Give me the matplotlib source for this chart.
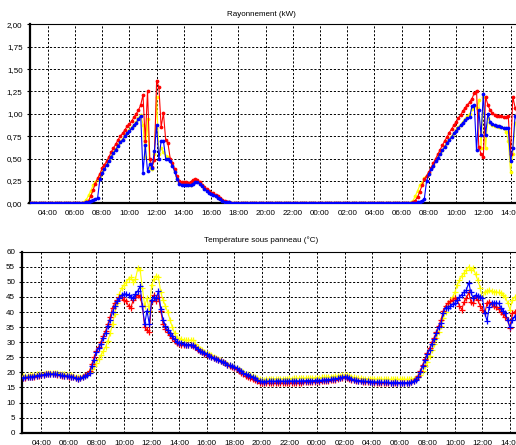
import numpy as np
import matplotlib
matplotlib.use("Agg")
import matplotlib.pyplot as plt
from matplotlib.ticker import FuncFormatter

plt.rcParams['font.family'] = ['Liberation Sans', 'DejaVu Sans']

# ---- sampling: one value every 10 minutes, from 02:40 (day 1) to 14:30 (day 2)
START_H = 2 + 40 / 60
STEP_H = 10 / 60

title_rad = "Rayonnement (kW)"
title_temp = "Température sous panneau (°C)"

# Rayonnement (kW)
rad_red = [0, 0,
    0, 0, 0, 0, 0, 0,              # 03
    0, 0, 0, 0, 0, 0,              # 04
    0, 0, 0, 0, 0, 0,              # 05
    0, 0, 0, 0, 0, 0.01,           # 06
    0.03, 0.08, 0.15, 0.22, 0.28, 0.33,   # 07
    0.39, 0.43, 0.47, 0.52, 0.57, 0.62,   # 08
    0.66, 0.71, 0.75, 0.78, 0.82, 0.86,   # 09
    0.89, 0.92, 0.96, 1.00, 1.04, 1.10,   # 10
    1.21, 0.70, 1.25, 0.50, 0.41, 0.48,   # 11
    1.37, 1.30, 0.85, 1.01, 0.71, 0.67,   # 12
    0.50, 0.45, 0.38, 0.30, 0.25, 0.24,   # 13
    0.24, 0.24, 0.23, 0.24, 0.26, 0.27,   # 14
    0.26, 0.24, 0.21, 0.18, 0.16, 0.14,   # 15
    0.12, 0.11, 0.09, 0.08, 0.06, 0.04,   # 16
    0.03, 0.02, 0.01, 0, 0, 0,            # 17
    0, 0, 0, 0, 0, 0,   # 18
    0, 0, 0, 0, 0, 0,   # 19
    0, 0, 0, 0, 0, 0,   # 20
    0, 0, 0, 0, 0, 0,   # 21
    0, 0, 0, 0, 0, 0,   # 22
    0, 0, 0, 0, 0, 0,   # 23
    0, 0, 0, 0, 0, 0,   # 00
    0, 0, 0, 0, 0, 0,   # 01
    0, 0, 0, 0, 0, 0,   # 02
    0, 0, 0, 0, 0, 0,   # 03
    0, 0, 0, 0, 0, 0,   # 04
    0, 0, 0, 0, 0, 0,   # 05
    0, 0, 0, 0, 0, 0.01,                  # 06
    0.03, 0.07, 0.13, 0.20, 0.27, 0.31,   # 07
    0.35, 0.40, 0.45, 0.50, 0.55, 0.60,   # 08
    0.65, 0.70, 0.74, 0.79, 0.83, 0.87,   # 09
    0.91, 0.95, 0.99, 1.03, 1.07, 1.10,   # 10
    1.13, 1.17, 1.23, 1.26, 0.63, 0.55,   # 11
    0.52, 1.19, 1.10, 1.04, 1.01, 0.99,   # 12
    0.98, 0.98, 0.97, 0.96, 0.96, 0.97,   # 13
    0.55, 1.19, 1.07, 1.00]               # 14

rad_yellow = [0, 0,
    0, 0, 0, 0, 0, 0,              # 03
    0, 0, 0, 0, 0, 0,              # 04
    0, 0, 0, 0, 0, 0,              # 05
    0, 0, 0, 0, 0.01, 0.04,        # 06
    0.09, 0.14, 0.20, 0.24, 0.27, 0.31,   # 07
    0.36, 0.40, 0.44, 0.48, 0.53, 0.57,   # 08
    0.61, 0.65, 0.69, 0.72, 0.76, 0.79,   # 09
    0.82, 0.85, 0.88, 0.91, 0.95, 0.99,   # 10
    0.88, 0.52, 0.94, 0.39, 0.38, 0.55,   # 11
    1.19, 0.55, 0.62, 0.57, 0.53, 0.52,   # 12
    0.48, 0.43, 0.36, 0.28, 0.23, 0.22,   # 13
    0.22, 0.22, 0.21, 0.21, 0.23, 0.25,   # 14
    0.25, 0.23, 0.20, 0.17, 0.15, 0.13,   # 15
    0.11, 0.10, 0.08, 0.07, 0.05, 0.04,   # 16
    0.02, 0.01, 0.01, 0, 0, 0,            # 17
    0, 0, 0, 0, 0, 0,   # 18
    0, 0, 0, 0, 0, 0,   # 19
    0, 0, 0, 0, 0, 0,   # 20
    0, 0, 0, 0, 0, 0,   # 21
    0, 0, 0, 0, 0, 0,   # 22
    0, 0, 0, 0, 0, 0,   # 23
    0, 0, 0, 0, 0, 0,   # 00
    0, 0, 0, 0, 0, 0,   # 01
    0, 0, 0, 0, 0, 0,   # 02
    0, 0, 0, 0, 0, 0,   # 03
    0, 0, 0, 0, 0, 0,   # 04
    0, 0, 0, 0, 0, 0,   # 05
    0, 0, 0, 0, 0.01, 0.03,               # 06
    0.08, 0.14, 0.20, 0.23, 0.28, 0.30,   # 07
    0.34, 0.39, 0.43, 0.48, 0.52, 0.56,   # 08
    0.60, 0.64, 0.68, 0.72, 0.75, 0.79,   # 09
    0.82, 0.85, 0.88, 0.91, 0.94, 0.97,   # 10
    1.00, 1.05, 1.09, 1.07, 1.15, 0.62,   # 11
    1.19, 0.62, 0.95, 0.90, 0.88, 0.86,   # 12
    0.86, 0.85, 0.85, 0.84, 0.80, 0.70,   # 13
    0.35, 0.55, 0.90, 0.88]               # 14

rad_blue = [0, 0,
    0, 0, 0, 0, 0, 0,              # 03
    0, 0, 0, 0, 0, 0,              # 04
    0, 0, 0, 0, 0, 0,              # 05
    0, 0, 0, 0, 0, 0.01,           # 06
    0.02, 0.03, 0.04, 0.05, 0.06, 0.27,   # 07
    0.34, 0.38, 0.43, 0.47, 0.52, 0.56,   # 08
    0.60, 0.64, 0.68, 0.71, 0.75, 0.78,   # 09
    0.81, 0.84, 0.87, 0.90, 0.94, 0.98,   # 10
    0.34, 0.65, 0.36, 0.44, 0.40, 0.58,   # 11
    0.87, 0.49, 0.70, 0.70, 0.50, 0.49,   # 12
    0.47, 0.42, 0.35, 0.27, 0.22, 0.21,   # 13
    0.21, 0.21, 0.20, 0.20, 0.22, 0.24,   # 14
    0.24, 0.22, 0.19, 0.16, 0.14, 0.12,   # 15
    0.10, 0.09, 0.08, 0.06, 0.05, 0.03,   # 16
    0.02, 0.01, 0.01, 0, 0, 0,            # 17
    0, 0, 0, 0, 0, 0,   # 18
    0, 0, 0, 0, 0, 0,   # 19
    0, 0, 0, 0, 0, 0,   # 20
    0, 0, 0, 0, 0, 0,   # 21
    0, 0, 0, 0, 0, 0,   # 22
    0, 0, 0, 0, 0, 0,   # 23
    0, 0, 0, 0, 0, 0,   # 00
    0, 0, 0, 0, 0, 0,   # 01
    0, 0, 0, 0, 0, 0,   # 02
    0, 0, 0, 0, 0, 0,   # 03
    0, 0, 0, 0, 0, 0,   # 04
    0, 0, 0, 0, 0, 0,   # 05
    0, 0, 0, 0, 0, 0,                     # 06
    0, 0.01, 0.02, 0.03, 0.05, 0.25,      # 07
    0.33, 0.38, 0.42, 0.47, 0.51, 0.55,   # 08
    0.59, 0.63, 0.67, 0.71, 0.74, 0.78,   # 09
    0.81, 0.84, 0.87, 0.90, 0.93, 0.95,   # 10
    0.96, 1.09, 1.10, 0.59, 1.04, 0.76,   # 11
    1.22, 0.76, 1.00, 0.91, 0.89, 0.87,   # 12
    0.86, 0.86, 0.85, 0.84, 0.84, 0.84,   # 13
    0.47, 0.62, 0.98, 0.95]               # 14

# Température sous panneau (°C)
temp_red = [18.1, 18.2,
    18.3, 18.4, 18.5, 18.6, 18.8, 18.9,   # 03
    19.0, 19.2, 19.3, 19.4, 19.4, 19.4,   # 04
    19.3, 19.2, 19.0, 18.9, 18.8, 18.7,   # 05
    18.6, 18.5, 18.3, 18.0, 17.8, 18.1,   # 06
    18.5, 19.0, 19.6, 20.5, 22.8, 25.0,   # 07
    27.0, 28.5, 30.2, 32.0, 33.8, 36.0,   # 08
    38.5, 41.5, 43.0, 44.0, 45.0, 45.0,   # 09
    44.0, 43.5, 42.0, 41.5, 44.0, 45.0,   # 10
    45.5, 45.0, 42.0, 35.0, 34.0, 33.5,   # 11
    43.5, 45.5, 43.5, 45.0, 40.5, 36.0,   # 12
    34.5, 33.5, 32.5, 31.5, 30.5, 29.8,   # 13
    29.5, 29.2, 29.0, 29.0, 29.1, 29.0,   # 14
    28.8, 28.3, 27.5, 27.0, 26.6, 26.2,   # 15
    25.9, 25.5, 25.2, 24.9, 24.5, 24.2,   # 16
    23.8, 23.4, 23.0, 22.6, 22.2, 21.9,   # 17
    21.5, 21.1, 20.5, 19.9, 19.4, 18.9,   # 18
    18.6, 18.2, 17.8, 17.4, 17.0, 16.6,   # 19
    16.4, 16.4, 16.5, 16.5, 16.4, 16.4,   # 20
    16.5, 16.6, 16.5, 16.5, 16.4, 16.5,   # 21
    16.6, 16.5, 16.6, 16.6, 16.5, 16.6,   # 22
    16.7, 16.7, 16.8, 16.7, 16.8, 16.9,   # 23
    17.0, 16.9, 17.0, 17.1, 17.2, 17.3,   # 00
    17.4, 17.5, 17.6, 17.8, 18.0, 18.2,   # 01
    18.3, 18.2, 17.9, 17.6, 17.4, 17.2,   # 02
    17.1, 17.0, 16.9, 16.8, 16.8, 16.7,   # 03
    16.7, 16.6, 16.6, 16.6, 16.5, 16.5,   # 04
    16.5, 16.5, 16.4, 16.5, 16.5, 16.4,   # 05
    16.5, 16.5, 16.4, 16.5, 16.6, 16.8,   # 06
    17.2, 17.9, 18.8, 20.5, 22.5, 24.5,   # 07
    26.5, 28.0, 30.0, 31.5, 33.5, 35.5,   # 08
    37.5, 40.5, 42.0, 43.0, 43.5, 44.0,   # 09
    44.5, 44.0, 42.0, 40.8, 43.3, 44.5,   # 10
    46.5, 43.4, 42.9, 45.1, 44.0, 42.0,   # 11
    40.7, 39.6, 42.9, 43.4, 42.5, 42.0,   # 12
    41.8, 41.0, 40.1, 39.3, 38.5, 37.3,   # 13
    34.6, 39.6, 40.0, 40.5]               # 14

temp_yellow = [18.8, 18.9,
    18.9, 19.0, 19.1, 19.2, 19.3, 19.4,   # 03
    19.5, 19.6, 19.8, 19.9, 19.9, 19.9,   # 04
    19.8, 19.7, 19.6, 19.4, 19.3, 19.2,   # 05
    19.1, 19.0, 18.8, 18.6, 18.4, 18.5,   # 06
    18.7, 18.9, 19.3, 20.0, 21.0, 22.0,   # 07
    23.2, 24.5, 25.8, 27.0, 28.5, 30.5,   # 08
    33.0, 36.0, 39.5, 43.0, 46.0, 48.0,   # 09
    49.0, 50.0, 51.0, 51.5, 50.0, 51.0,   # 10
    54.5, 54.0, 48.0, 42.0, 44.5, 40.5,   # 11
    49.0, 51.0, 52.0, 51.5, 46.5, 44.0,   # 12
    42.0, 40.0, 37.5, 35.0, 33.0, 31.5,   # 13
    31.2, 31.0, 30.8, 30.6, 30.6, 30.7,   # 14
    30.6, 29.5, 28.5, 27.8, 27.3, 26.9,   # 15
    26.5, 26.0, 25.6, 25.2, 24.8, 24.4,   # 16
    24.0, 23.6, 23.2, 22.8, 22.4, 22.1,   # 17
    21.8, 21.5, 21.1, 20.6, 20.1, 19.6,   # 18
    19.3, 19.0, 18.7, 18.4, 18.0, 17.7,   # 19
    17.6, 17.6, 17.7, 17.8, 17.8, 17.8,   # 20
    17.9, 17.9, 17.8, 17.9, 17.9, 17.9,   # 21
    18.0, 17.9, 18.0, 18.0, 18.0, 18.0,   # 22
    18.1, 18.1, 18.1, 18.0, 18.1, 18.2,   # 23
    18.2, 18.2, 18.3, 18.3, 18.4, 18.4,   # 00
    18.5, 18.6, 18.7, 18.8, 18.9, 19.0,   # 01
    19.1, 19.0, 18.8, 18.5, 18.3, 18.1,   # 02
    18.0, 18.0, 17.9, 17.9, 17.9, 17.8,   # 03
    17.8, 17.8, 17.8, 17.8, 17.7, 17.7,   # 04
    17.7, 17.7, 17.7, 17.7, 17.7, 17.7,   # 05
    17.7, 17.7, 17.7, 17.7, 17.7, 17.8,   # 06
    17.9, 18.0, 18.5, 19.2, 20.5, 22.0,   # 07
    23.5, 25.5, 27.5, 29.5, 31.5, 33.5,   # 08
    35.5, 38.0, 40.0, 42.0, 43.5, 45.0,   # 09
    46.5, 49.0, 50.5, 52.0, 53.0, 54.0,   # 10
    55.0, 54.0, 54.5, 52.5, 50.5, 48.0,   # 11
    44.5, 46.5, 47.0, 47.3, 47.0, 46.7,   # 12
    46.7, 46.5, 46.2, 45.5, 45.0, 43.0,   # 13
    40.7, 44.0, 45.0, 45.0]               # 14

temp_blue = [18.2, 18.3,
    18.4, 18.4, 18.6, 18.7, 18.9, 19.0,   # 03
    19.1, 19.2, 19.4, 19.5, 19.4, 19.5,   # 04
    19.4, 19.3, 19.1, 19.0, 18.9, 18.8,   # 05
    18.7, 18.6, 18.4, 18.1, 17.8, 18.0,   # 06
    18.3, 18.7, 19.2, 19.8, 22.0, 24.2,   # 07
    26.8, 28.0, 29.5, 31.5, 33.0, 35.5,   # 08
    37.5, 40.0, 42.0, 43.5, 44.5, 45.5,   # 09
    46.0, 46.0, 45.5, 45.0, 44.5, 46.0,   # 10
    47.0, 48.5, 42.0, 36.0, 40.5, 36.0,   # 11
    44.0, 45.0, 44.5, 47.0, 41.0, 37.5,   # 12
    35.5, 34.0, 33.0, 32.0, 31.0, 30.0,   # 13
    29.8, 29.6, 29.4, 29.2, 29.2, 29.2,   # 14
    29.0, 28.5, 27.8, 27.2, 26.8, 26.3,   # 15
    26.0, 25.5, 25.2, 24.8, 24.5, 24.1,   # 16
    23.8, 23.4, 23.0, 22.6, 22.3, 22.0,   # 17
    21.7, 21.4, 20.9, 20.4, 19.8, 19.3,   # 18
    19.0, 18.7, 18.4, 18.0, 17.6, 17.2,   # 19
    17.0, 16.9, 17.0, 17.1, 17.1, 17.0,   # 20
    17.1, 17.2, 17.1, 17.1, 17.0, 17.1,   # 21
    17.2, 17.1, 17.1, 17.2, 17.1, 17.1,   # 22
    17.2, 17.2, 17.3, 17.2, 17.2, 17.3,   # 23
    17.4, 17.3, 17.4, 17.5, 17.6, 17.6,   # 00
    17.7, 17.8, 17.9, 18.0, 18.2, 18.4,   # 01
    18.6, 18.5, 18.2, 17.9, 17.6, 17.4,   # 02
    17.3, 17.2, 17.1, 17.0, 17.0, 16.9,   # 03
    16.9, 16.8, 16.8, 16.8, 16.7, 16.7,   # 04
    16.7, 16.7, 16.6, 16.6, 16.7, 16.6,   # 05
    16.6, 16.6, 16.5, 16.6, 16.6, 16.7,   # 06
    17.0, 17.6, 18.5, 20.0, 22.0, 24.0,   # 07
    26.0, 27.5, 29.5, 31.0, 33.0, 35.0,   # 08
    36.3, 39.8, 41.5, 41.3, 42.0, 42.5,   # 09
    42.9, 44.0, 45.0, 45.8, 46.7, 47.3,   # 10
    49.7, 46.5, 44.5, 45.6, 45.2, 45.0,   # 11
    44.5, 39.6, 37.1, 41.8, 43.0, 43.1,   # 12
    43.0, 42.9, 41.5, 40.5, 39.6, 37.3,   # 13
    34.9, 37.3, 38.5, 39.0]               # 14

series_colors = {"red": "#ff0000", "yellow": "#ffff00", "blue": "#0000ff"}

for name, s in [("rad_red", rad_red), ("rad_yellow", rad_yellow), ("rad_blue", rad_blue),
                ("temp_red", temp_red), ("temp_yellow", temp_yellow), ("temp_blue", temp_blue)]:
    if len(s) != 216:
        raise SystemExit(f"{name} has {len(s)} values")

t = START_H + STEP_H * np.arange(216)

W, H = 516, 445
fig = plt.figure(figsize=(W / 100, H / 100), dpi=100)

def px_axes(left, top, right, bottom):
    return fig.add_axes([left / W, 1 - bottom / H, (right - left) / W, (bottom - top) / H])

ax1 = px_axes(29.5, 24.3, 516, 203.3)
ax2 = px_axes(22, 251.7, 516, 432.7)

FS = 5.8
hour_fmt = FuncFormatter(lambda v, p: f"{int(round(v)) % 24:02d}:00")

def style(ax):
    ax.grid(True, color="black", linestyle=(0, (2.2, 1.8)), linewidth=0.7)
    ax.set_axisbelow(True)
    ax.spines["right"].set_visible(False)
    ax.spines["top"].set_linewidth(0.8)
    ax.spines["left"].set_linewidth(1.6)
    ax.spines["bottom"].set_linewidth(1.6)
    ax.set_xticks(np.arange(4, 39, 2))
    ax.xaxis.set_major_formatter(hour_fmt)
    ax.tick_params(axis="x", length=0, pad=5, labelsize=FS)
    ax.tick_params(axis="y", length=2.5, width=0.8, pad=2.5, labelsize=FS)

# Radiation
ax1.set_xlim(2.663, 38.40)
ax1.set_ylim(0, 2.0)
ax1.set_yticks(np.arange(0, 2.01, 0.25))
ax1.yaxis.set_major_formatter(FuncFormatter(lambda v, p: f"{v:.2f}".replace(".", ",")))
style(ax1)
for s, c in [(rad_yellow, "yellow"), (rad_red, "red"), (rad_blue, "blue")]:
    ax1.plot(t, s, color=series_colors[c], linewidth=0.8, marker="o",
             markersize=2.7, markeredgewidth=0, zorder=3)

# Temperature
ax2.set_xlim(2.60, 38.435)
ax2.set_ylim(0, 60)
ax2.set_yticks(np.arange(0, 61, 5))
style(ax2)
for s, c in [(temp_yellow, "yellow"), (temp_red, "red"), (temp_blue, "blue")]:
    ax2.plot(t, s, color=series_colors[c], linewidth=0.8, marker="+",
             markersize=4, markeredgewidth=0.9, zorder=3)

fig.text(261 / W, 1 - 14 / H, title_rad, ha="center", va="center", fontsize=FS)
fig.text(261 / W, 1 - 240 / H, title_temp, ha="center", va="center", fontsize=FS)

fig.savefig("out.png", dpi=100, facecolor="white")
